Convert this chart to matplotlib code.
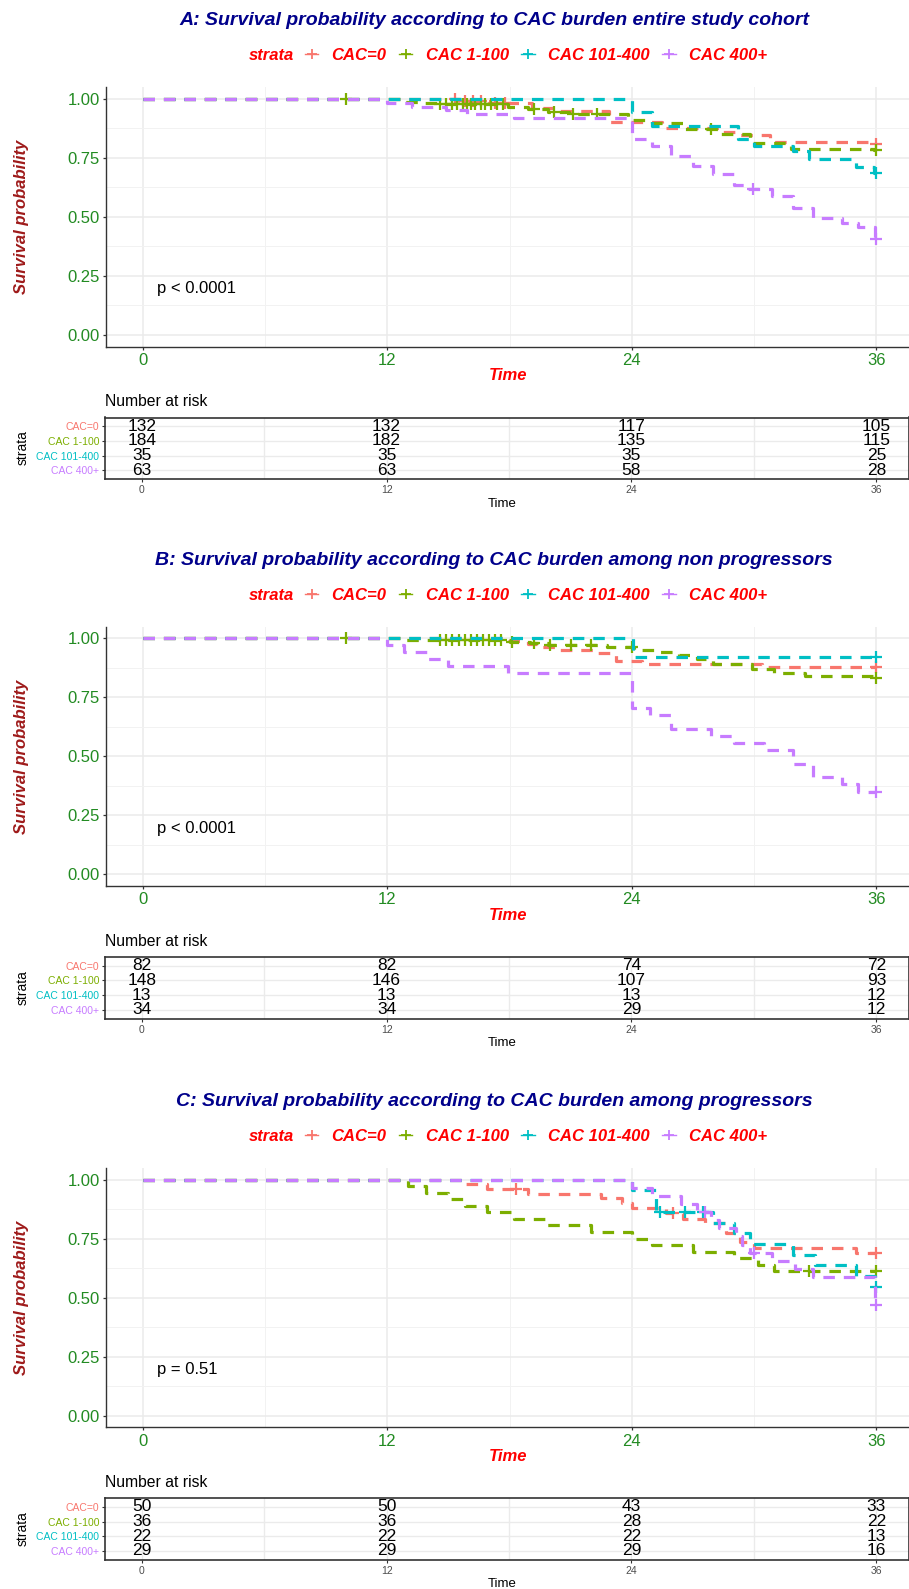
import numpy as np
import matplotlib
matplotlib.use("Agg")
import matplotlib.pyplot as plt
from matplotlib.lines import Line2D
from matplotlib.ticker import FormatStrFormatter

# ---------------- data ----------------
strata = ["CAC=0", "CAC 1-100", "CAC 101-400", "CAC 400+"]
colors = ["#F8766D", "#7CAE00", "#00BFC4", "#C77CFF"]
time_breaks = [0, 12, 24, 36]
titles = [
    "A: Survival probability according to CAC burden entire study cohort",
    "B: Survival probability according to CAC burden among non progressors",
    "C: Survival probability according to CAC burden among progressors",
]
pvals = ["p < 0.0001", "p < 0.0001", "p = 0.51"]

# Panel A – entire cohort
a_cac0_t = [0, 15.5, 17.0, 19.1, 20.5, 22.9, 25.5, 28.3, 29.2, 30.8, 35.8]
a_cac0_s = [1.0, 0.992, 0.984, 0.962, 0.947, 0.902, 0.876, 0.859, 0.847, 0.818, 0.809]
a_cac0_c = [15.3, 15.8, 16.2, 16.6, 17.3, 17.8, 36.0]
a_cac1_t = [0, 12.8, 13.8, 14.5, 17.9, 18.9, 19.9, 20.9, 23.8, 25.0, 26.6, 28.4, 29.8, 31.8, 35.9]
a_cac1_s = [1.0, 0.989, 0.984, 0.979, 0.965, 0.956, 0.945, 0.936, 0.911, 0.897, 0.871, 0.851, 0.812, 0.790, 0.784]
a_cac1_c = [10.0, 14.6, 14.9, 15.2, 15.4, 15.7, 15.9, 16.1, 16.3, 16.6, 16.8, 17.1, 17.4, 17.7,
            19.2, 20.2, 21.1, 22.3, 27.9, 36.0]
a_cac2_t = [0, 24.0, 25.0, 29.2, 30.0, 31.9, 32.7, 35.0, 35.9]
a_cac2_s = [1.0, 0.943, 0.886, 0.829, 0.800, 0.780, 0.744, 0.713, 0.688]
a_cac2_c = [36.0]
a_cac3_t = [0, 12.0, 13.2, 14.9, 15.9, 18.2, 24.0, 25.0, 25.9, 27.0, 28.0, 29.0, 29.6, 30.9, 31.9,
            32.9, 34.3, 35.1, 35.95]
a_cac3_s = [1.0, 0.984, 0.968, 0.952, 0.937, 0.921, 0.830, 0.800, 0.760, 0.715, 0.682, 0.635, 0.620,
            0.588, 0.540, 0.495, 0.475, 0.458, 0.405]
a_cac3_c = [29.95, 36.0]
a_risk = [[132, 132, 117, 105], [184, 182, 135, 115], [35, 35, 35, 25], [63, 63, 58, 28]]

# Panel B – non progressors
b_cac0_t = [0, 17.9, 18.9, 19.6, 20.5, 22.3, 23.2, 24.5, 30.4]
b_cac0_s = [1.0, 0.988, 0.975, 0.963, 0.951, 0.939, 0.905, 0.892, 0.880]
b_cac0_c = [36.0]
b_cac1_t = [0, 12.8, 18.0, 19.0, 19.9, 22.8, 24.1, 25.3, 26.3, 27.2, 28.0, 29.9, 31.0, 32.5, 35.9]
b_cac1_s = [1.0, 0.993, 0.986, 0.979, 0.972, 0.964, 0.951, 0.942, 0.932, 0.912, 0.892, 0.870, 0.853,
            0.842, 0.832]
b_cac1_c = [10.0, 14.6, 14.9, 15.2, 15.5, 15.8, 16.1, 16.4, 16.7, 17.0, 17.3, 17.6, 18.1,
            19.2, 20.0, 21.0, 22.0, 24.0, 36.0]
b_cac2_t = [0, 24.05]
b_cac2_s = [1.0, 0.923]
b_cac2_c = [36.0]
b_cac3_t = [0, 12.0, 12.8, 14.0, 15.0, 17.9, 24.0, 24.9, 25.9, 27.9, 29.0, 30.5, 31.9, 32.9, 34.3, 35.1]
b_cac3_s = [1.0, 0.971, 0.941, 0.912, 0.882, 0.853, 0.706, 0.676, 0.618, 0.588, 0.559, 0.529, 0.470,
            0.415, 0.384, 0.351]
b_cac3_c = [36.0]
b_risk = [[82, 82, 74, 72], [148, 146, 107, 93], [13, 13, 13, 12], [34, 34, 29, 12]]

# Panel C – progressors
c_cac0_t = [0, 15.7, 16.9, 18.9, 22.5, 23.5, 24.0, 25.7, 26.5, 27.6, 28.6, 29.3, 30.0, 35.0]
c_cac0_s = [1.0, 0.980, 0.960, 0.940, 0.920, 0.900, 0.880, 0.860, 0.835, 0.815, 0.775, 0.735, 0.710, 0.690]
c_cac0_c = [18.3, 26.0, 36.0]
c_cac1_t = [0, 13.0, 13.9, 15.0, 15.8, 16.9, 18.2, 19.8, 22.0, 24.0, 25.0, 27.0, 29.0, 30.2, 31.0]
c_cac1_s = [1.0, 0.972, 0.944, 0.917, 0.889, 0.861, 0.833, 0.806, 0.778, 0.750, 0.722, 0.694, 0.667,
            0.639, 0.611]
c_cac1_c = [32.7, 36.0]
c_cac2_t = [0, 24.0, 25.2, 28.0, 29.0, 29.8, 31.9, 33.0, 35.0, 35.95]
c_cac2_s = [1.0, 0.955, 0.864, 0.818, 0.773, 0.727, 0.682, 0.636, 0.591, 0.545]
c_cac2_c = [25.4, 26.6, 27.5, 36.0]
c_cac3_t = [0, 24.0, 25.0, 26.4, 27.2, 27.9, 28.3, 29.1, 29.4, 29.8, 30.9, 32.0, 32.9, 35.95]
c_cac3_s = [1.0, 0.966, 0.931, 0.897, 0.862, 0.828, 0.796, 0.762, 0.724, 0.690, 0.655, 0.620, 0.586, 0.470]
c_cac3_c = [27.6, 30.0, 36.0]
c_risk = [[50, 50, 43, 33], [36, 36, 28, 22], [22, 22, 22, 13], [29, 29, 29, 16]]

panels = [
    dict(curves=[(a_cac0_t, a_cac0_s, a_cac0_c), (a_cac1_t, a_cac1_s, a_cac1_c),
                 (a_cac2_t, a_cac2_s, a_cac2_c), (a_cac3_t, a_cac3_s, a_cac3_c)], risk=a_risk),
    dict(curves=[(b_cac0_t, b_cac0_s, b_cac0_c), (b_cac1_t, b_cac1_s, b_cac1_c),
                 (b_cac2_t, b_cac2_s, b_cac2_c), (b_cac3_t, b_cac3_s, b_cac3_c)], risk=b_risk),
    dict(curves=[(c_cac0_t, c_cac0_s, c_cac0_c), (c_cac1_t, c_cac1_s, c_cac1_c),
                 (c_cac2_t, c_cac2_s, c_cac2_c), (c_cac3_t, c_cac3_s, c_cac3_c)], risk=c_risk),
]

# ---------------- layout ----------------
FONT = "Liberation Sans"
NARROW = ["Liberation Sans Narrow", "Liberation Sans", "DejaVu Sans"]
plt.rcParams["font.family"] = [FONT, "DejaVu Sans"]
W, H = 909, 1589
fig = plt.figure(figsize=(W / 100, H / 100), dpi=100)
fig.patch.set_facecolor("white")


def add_ax(l, t, r, b):
    return fig.add_axes([l / W, 1 - b / H, (r - l) / W, (b - t) / H])


def ftext(x, y, s, **kw):
    return fig.text(x / W, 1 - y / H, s, **kw)


GRID = "#EBEBEB"
AXC = "#333333"
TICKC = "#228B22"
offsets = [0.0, 539.5, 1080.6]
XLIM = (-1.8, 37.6)

for p, o, title, pv in zip(panels, offsets, titles, pvals):
    # title
    ftext(494, 20.5 + o, title, ha="center", va="center", color="#00008B",
          fontsize=14, fontweight="bold", fontstyle="italic")
    # main axes
    ax = add_ax(106, 87.2 + o, 909, 346.7 + o)
    ax.set_xlim(*XLIM)
    ax.set_ylim(-0.05, 1.05)
    ax.set_xticks(time_breaks)
    ax.set_xticks([6, 18, 30], minor=True)
    ax.set_yticks([0, 0.25, 0.5, 0.75, 1.0])
    ax.set_yticks([0.125, 0.375, 0.625, 0.875], minor=True)
    ax.yaxis.set_major_formatter(FormatStrFormatter("%.2f"))
    ax.grid(which="major", color=GRID, lw=1.1)
    ax.grid(which="minor", color="#F2F2F2", lw=0.7)
    ax.set_axisbelow(True)
    for sp in ["top", "right"]:
        ax.spines[sp].set_visible(False)
    for sp in ["left", "bottom"]:
        ax.spines[sp].set_color(AXC)
        ax.spines[sp].set_linewidth(1.0)
    ax.tick_params(which="major", length=2.5, width=0.9, color=AXC, labelcolor=TICKC,
                   labelsize=12, pad=2)
    ax.tick_params(which="minor", length=0)

    handles = []
    for (t, s, cens), col in zip(p["curves"], colors):
        t = list(t)
        s = list(s)
        if t[-1] < 36:
            t = t + [36]
            s = s + [s[-1]]
        ln, = ax.step(t, s, where="post", color=col, lw=2.3, dash_capstyle="butt")
        ln.set_dashes((3.6, 2.8))
        tt = np.array(t)
        ss = np.array(s)
        cy = [ss[np.searchsorted(tt, c, side="right") - 1] for c in cens]
        ax.plot(cens, cy, ls="none", marker="+", ms=8, mew=1.6, color=col)
        handles.append(Line2D([0], [0], color=col, lw=1.0, marker="+", ms=7, mew=1.3))

    ax.text(0.7, 0.195, pv, ha="left", va="center", fontsize=12, color="black")

    # axis labels
    ftext(508, 375.5 + o, "Time", ha="center", va="center", color="red",
          fontsize=12, fontweight="bold", fontstyle="italic")
    ftext(22, 217 + o, "Survival probability", ha="center", va="center", color="#9E1A1A",
          rotation=90, fontsize=12, fontweight="bold", fontstyle="italic")

    # legend
    ftext(294, 55.7 + o, "strata", ha="right", va="center", color="red",
          fontsize=12, fontweight="bold", fontstyle="italic")
    fig.legend(handles, strata, loc="center", bbox_to_anchor=(536 / W, 1 - (55.7 + o) / H),
               ncol=4, frameon=False, handlelength=0.8, handletextpad=0.8,
               columnspacing=0.75, labelcolor="red",
               prop=dict(family=FONT, weight="bold", style="italic", size=12))

    # risk table
    ftext(105, 402 + o, "Number at risk", ha="left", va="center", fontsize=11.3, color="black")
    tax = add_ax(105, 417.5 + o, 909, 479 + o)
    tax.set_xlim(*XLIM)
    tax.set_ylim(4.6, 0.4)
    tax.set_xticks(time_breaks)
    tax.set_xticks([6, 18, 30], minor=True)
    tax.set_yticks([1, 2, 3, 4])
    tax.set_yticklabels(strata)
    for lbl, col in zip(tax.get_yticklabels(), colors):
        lbl.set_color(col)
    tax.grid(which="both", axis="x", color=GRID, lw=1.0)
    tax.grid(which="major", axis="y", color=GRID, lw=1.0)
    tax.set_axisbelow(True)
    for sp in tax.spines.values():
        sp.set_color(AXC)
        sp.set_linewidth(1.2)
    tax.tick_params(axis="y", which="major", length=2.5, color=AXC, labelsize=7.5, pad=1.5)
    tax.tick_params(axis="x", which="major", length=2.5, color=AXC, labelcolor="#4D4D4D",
                    labelsize=7.5, pad=2)
    tax.tick_params(which="minor", length=0)
    for i, row in enumerate(p["risk"]):
        for tb, n in zip(time_breaks, row):
            tax.text(tb, i + 1, str(n), ha="center", va="center", fontsize=12.5,
                     color="black", family=NARROW)
    ftext(23, 448 + o, "strata", ha="center", va="center", rotation=90, fontsize=10, color="black")
    ftext(502, 503.7 + o, "Time", ha="center", va="center", fontsize=9.5, color="black")

fig.savefig("out.png", dpi=100, facecolor="white")
